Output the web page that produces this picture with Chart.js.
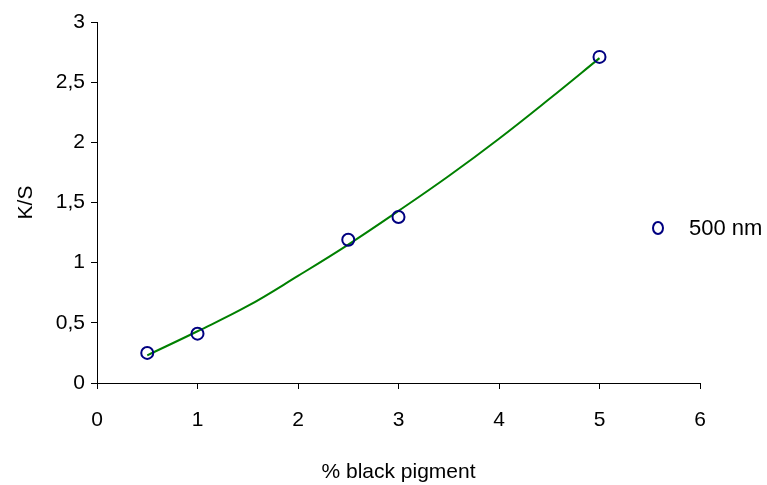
<!DOCTYPE html>
<html>
<head>
<meta charset="utf-8">
<script src="https://cdn.jsdelivr.net/npm/chart.js@4"></script>
<style>
  html, body { margin: 0; padding: 0; background: #fff; }
  #wrap { width: 767px; height: 485px; }
</style>
</head>
<body>
<div id="wrap"><canvas id="ksChart" width="767" height="485"></canvas></div>
<script>
// measured K/S at 500 nm
const pigment = [0.5, 1, 2.5, 3, 5];
const ks500 = [0.25, 0.41, 1.19, 1.38, 2.71];

// trend curve
const trendX = [0.5, 1, 1.5, 2, 2.5, 3, 3.5, 4, 4.5, 5];
const trendY = [0.23, 0.43, 0.64, 0.89, 1.15, 1.43, 1.72, 2.03, 2.36, 2.70];

const xTicks = [0, 1, 2, 3, 4, 5, 6];
const yTicks = [0, 0.5, 1, 1.5, 2, 2.5, 3];

const FONT = "'Liberation Sans', Arial, sans-serif";

// legend box on the right, only for the measured series
const sideLegend = {
    id: 'sideLegend',
    afterDraw(chart) {
        const ctx = chart.ctx;
        const ds = chart.data.datasets[0];
        ctx.save();
        ctx.strokeStyle = ds.borderColor;
        ctx.lineWidth = 2;
        ctx.beginPath();
        ctx.ellipse(658, 228, 5, 6, 0, 0, Math.PI * 2);
        ctx.stroke();
        ctx.fillStyle = '#000';
        ctx.font = '22px ' + FONT;
        ctx.textBaseline = 'middle';
        ctx.fillText(ds.label, 689, 229);
        ctx.restore();
    }
};

document.addEventListener('DOMContentLoaded', function () {
    const ctx = document.getElementById('ksChart').getContext('2d');
    new Chart(ctx, {
        type: 'scatter',
        data: {
            datasets: [{
                label: '500 nm',
                data: pigment.map((x, i) => ({ x: x, y: ks500[i] })),
                borderColor: '#000080',
                backgroundColor: 'rgba(0,0,0,0)',
                pointRadius: 6,
                pointBorderWidth: 2,
                order: 0,
            }, {
                label: 'trend',
                type: 'line',
                data: trendX.map((x, i) => ({ x: x, y: trendY[i] })),
                borderColor: '#008000',
                borderWidth: 2,
                pointRadius: 0,
                tension: 0.4,
                fill: false,
                order: 1,
            }],
        },
        options: {
            responsive: false,
            animation: false,
            layout: { padding: { top: 22, right: 67, bottom: 0, left: 0 } },
            plugins: {
                legend: { display: false },
                tooltip: { enabled: false },
            },
            scales: {
                x: {
                    type: 'linear',
                    min: 0,
                    max: 6,
                    afterBuildTicks: (s) => { s.ticks = xTicks.map(v => ({ value: v })); },
                    afterFit: (s) => { s.height = 102; },
                    border: { color: '#000', width: 1 },
                    grid: { drawOnChartArea: false, drawTicks: true, tickLength: 6, color: '#000' },
                    ticks: { color: '#000', font: { family: FONT, size: 21 }, padding: 19, maxRotation: 0 },
                    title: {
                        display: true,
                        text: '% black pigment',
                        color: '#000',
                        font: { family: FONT, size: 21 },
                        padding: { top: 6, bottom: 0 },
                    },
                },
                y: {
                    min: 0,
                    max: 3,
                    afterBuildTicks: (s) => { s.ticks = yTicks.map(v => ({ value: v })); },
                    afterFit: (s) => { s.width = 97; },
                    border: { color: '#000', width: 1 },
                    grid: { drawOnChartArea: false, drawTicks: true, tickLength: 6, color: '#000' },
                    ticks: {
                        color: '#000',
                        font: { family: FONT, size: 21 },
                        padding: 6,
                        callback: (v) => String(v).replace('.', ','),
                    },
                    title: {
                        display: true,
                        text: 'K/S',
                        color: '#000',
                        font: { family: FONT, size: 21 },
                        padding: { top: 14, bottom: 0 },
                    },
                },
            },
        },
        plugins: [sideLegend],
    });
});
</script>
</body>
</html>
